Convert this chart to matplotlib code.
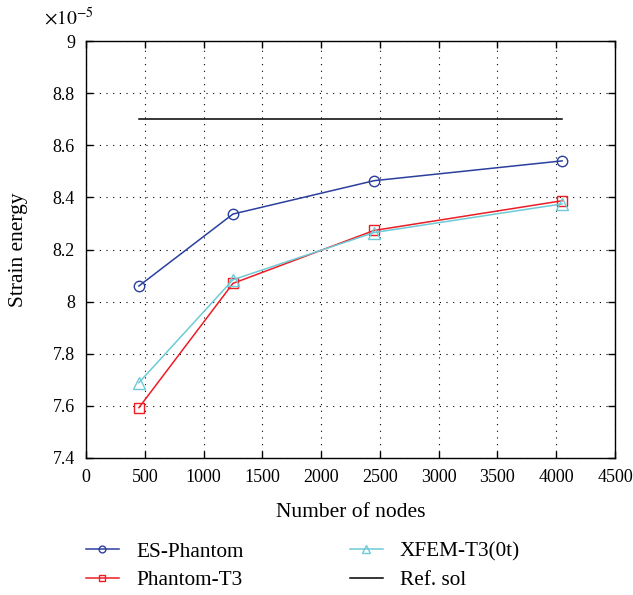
import matplotlib
matplotlib.use("Agg")
import matplotlib.pyplot as plt

plt.rcParams['font.family'] = ['Liberation Serif', 'DejaVu Serif']
plt.rcParams['mathtext.fontset'] = 'stix'

nodes = [450, 1250, 2450, 4050]
es_phantom = [8.06, 8.336, 8.464, 8.54]
phantom_t3 = [7.593, 8.07, 8.273, 8.387]
xfem_t3 = [7.689, 8.084, 8.265, 8.375]
ref_x = [450, 4050]
ref_val = [8.7, 8.7]

xticks = [0, 500, 1000, 1500, 2000, 2500, 3000, 3500, 4000, 4500]
yticks = [7.4, 7.6, 7.8, 8.0, 8.2, 8.4, 8.6, 8.8, 9.0]
yticklabels = ['7.4', '7.6', '7.8', '8', '8.2', '8.4', '8.6', '8.8', '9']

fig = plt.figure(figsize=(6.33, 5.95), dpi=100)
ax = fig.add_axes([86/633, 1-458/595, (615-86)/633, (458-41)/595])

l1, = ax.plot(nodes, es_phantom, color='#2b3f9e', lw=1.1, marker='o', ms=7.5, mfc='none', mec='#2b3f9e', mew=1.0, label='ES-Phantom')
l2, = ax.plot(nodes, phantom_t3, color='#ee1c25', lw=1.1, marker='s', ms=6.5, mfc='none', mec='#ee1c25', mew=1.0, label='Phantom-T3')
l3, = ax.plot(nodes, xfem_t3, color='#6ccbd6', lw=1.1, marker='^', ms=8.5, mfc='none', mec='#6ccbd6', mew=1.0, label='XFEM-T3(0t)')
l4, = ax.plot(ref_x, ref_val, color='black', lw=1.1, label='Ref. sol')

ax.set_xlim(0, 4500)
ax.set_ylim(7.4, 9.0)
ax.set_xticks(xticks)
ax.set_xticklabels([str(v) for v in xticks])
ax.set_yticks(yticks)
ax.set_yticklabels(yticklabels)
ax.tick_params(direction='in', top=True, right=True, labelsize=13, length=5, width=1, pad=8)
ax.grid(True, color='black', linestyle=(0, (1, 5)), linewidth=0.8)
for s in ax.spines.values():
    s.set_linewidth(1.0)

ax.set_xlabel('Number of nodes', fontsize=15.5, labelpad=12)
ax.set_ylabel('Strain energy', fontsize=15.5, labelpad=18)
fig.text(44/633, 1-18/595, r'$\times 10^{-5}$', fontsize=14, ha='left', va='center')

fig.legend(handles=[l1, l2, l3, l4], ncol=2, frameon=False, fontsize=15.3,
           loc='upper left', bbox_to_anchor=(86/633, 1-542/595),
           borderpad=0, borderaxespad=0, markerscale=0.65,
           handlelength=1.55, columnspacing=5.0, labelspacing=0.4, handletextpad=0.8)

fig.savefig('out.png', dpi=100)
